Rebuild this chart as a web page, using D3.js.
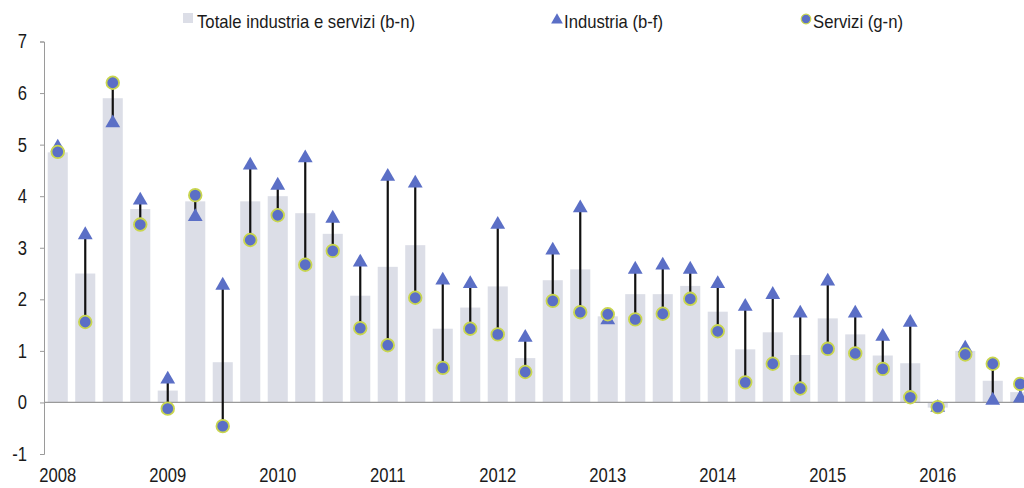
<!DOCTYPE html>
<html>
<head>
<meta charset="utf-8">
<script src="https://cdn.jsdelivr.net/npm/d3@7"></script>
<style>
  body { margin: 0; background: #ffffff; }
  text { font-family: "Liberation Sans", Arial, sans-serif; fill: #1a1a1a; }
</style>
</head>
<body>
<script>
'use strict';

// years on the x axis, one label at the first quarter of each
const years = ["2008", "2009", "2010", "2011", "2012", "2013", "2014", "2015", "2016"];
const quarters = ["T1", "T2", "T3", "T4"];

// Totale industria e servizi (b-n)
const totale = [4.85, 2.5, 5.9, 3.75, 0.23, 3.9, 0.78, 3.9, 4.0, 3.67, 3.27, 2.07,
  2.63, 3.05, 1.43, 1.84, 2.25, 0.86, 2.37, 2.58, 1.67, 2.1, 2.1, 2.26,
  1.76, 1.03, 1.36, 0.92, 1.63, 1.32, 0.91, 0.76, -0.1, 1.0, 0.42, 0.2];

// Industria (b-f)
const industria = [4.95, 3.25, 5.42, 3.92, 0.45, 3.6, 2.27, 4.6, 4.21, 4.74, 3.57, 2.72,
  4.38, 4.25, 2.37, 2.3, 3.45, 1.26, 2.95, 3.77, 1.6, 2.58, 2.66, 2.58,
  2.3, 1.86, 2.09, 1.73, 2.35, 1.73, 1.28, 1.55, -0.1, 1.05, 0.04, 0.08];

// Servizi (g-n)
const servizi = [4.86, 1.56, 6.2, 3.45, -0.12, 4.02, -0.46, 3.15, 3.63, 2.67, 2.94, 1.44,
  1.11, 2.03, 0.67, 1.43, 1.32, 0.59, 1.97, 1.75, 1.71, 1.61, 1.72, 2.01,
  1.38, 0.39, 0.75, 0.27, 1.04, 0.95, 0.65, 0.1, -0.09, 0.93, 0.75, 0.36];

const yTicks = [-1, 0, 1, 2, 3, 4, 5, 6, 7];
const legendLabels = ["Totale industria e servizi (b-n)", "Industria (b-f)", "Servizi (g-n)"];

(function() {

  let svgContainer = "";
  const measurements = {
    width: 1024,
    height: 488,
    left: 44,
    top: 41.5,
    bottom: 454
  };
  const colors = {
    bar: "#dcdee7",
    marker: "#5b6fc6",
    ring: "#c9d64e",
    stem: "#111111",
    axis: "#9a9a9a"
  };
  const narrow = 0.83; // the original uses a condensed face

  window.onload = function() {
    svgContainer = d3.select('body')
      .append('svg')
      .attr('width', measurements.width)
      .attr('height', measurements.height);

    // build one row per quarter
    let categories = [];
    years.forEach((y) => quarters.forEach((q) => categories.push(y + " " + q)));
    let data = categories.map((c, i) => ({
      cat: c,
      tot: totale[i],
      ind: industria[i],
      ser: servizi[i]
    }));

    let scales = drawAxes(categories);
    plotData(data, scales);
    makeLegend();
  };

  // squeeze a text selection horizontally
  function condense(sel) {
    sel.each(function() {
      let w = this.getComputedTextLength();
      d3.select(this)
        .attr('textLength', w * narrow)
        .attr('lengthAdjust', 'spacingAndGlyphs');
    });
  }

  // axes, zero line and year labels
  function drawAxes(categories) {
    let xScale = d3.scaleBand()
      .domain(categories)
      .range([measurements.left, measurements.left + 27.5 * categories.length])
      .paddingInner(0.27)
      .paddingOuter(0.135);

    let yScale = d3.scaleLinear()
      .domain([-1, 7])
      .range([measurements.bottom, measurements.top]);

    // y axis on the left
    let yAxis = d3.axisLeft(yScale)
      .tickValues(yTicks)
      .tickSize(4)
      .tickPadding(13)
      .tickFormat((d) => String(d));
    let gy = svgContainer.append('g')
      .attr('transform', 'translate(' + measurements.left + ', 0)')
      .call(yAxis);
    gy.select('.domain').attr('stroke', colors.axis).attr('stroke-width', 1);
    gy.selectAll('.tick line').attr('stroke', colors.axis);
    gy.selectAll('.tick text')
      .style('font-size', '20px')
      .style('font-family', '"Liberation Sans", Arial, sans-serif')
      .attr('fill', '#1a1a1a')
      .call(condense);

    // year labels under the chart, centred on the first quarter
    let firstQuarters = categories.filter((c) => c.endsWith(quarters[0]));
    let xAxis = d3.axisBottom(xScale)
      .tickValues(firstQuarters)
      .tickSize(0)
      .tickPadding(0)
      .tickFormat((d) => d.split(" ")[0]);
    let gx = svgContainer.append('g')
      .attr('transform', 'translate(0, 468)')
      .call(xAxis);
    gx.select('.domain').remove();
    gx.selectAll('.tick text')
      .style('font-size', '20px')
      .style('font-family', '"Liberation Sans", Arial, sans-serif')
      .attr('fill', '#1a1a1a')
      .call(condense);

    return { x: xScale, y: yScale };
  }

  // bars, stems, triangles and circles
  function plotData(data, s) {
    let xMid = (d) => s.x(d.cat) + s.x.bandwidth() / 2;

    svgContainer.selectAll('.bar')
      .data(data)
      .enter()
      .append('rect')
      .attr('class', 'bar')
      .attr('x', (d) => s.x(d.cat))
      .attr('width', s.x.bandwidth())
      .attr('y', (d) => s.y(Math.max(0, d.tot)))
      .attr('height', (d) => Math.abs(s.y(d.tot) - s.y(0)))
      .attr('fill', colors.bar);

    // zero line
    svgContainer.append('line')
      .attr('x1', measurements.left)
      .attr('x2', measurements.width)
      .attr('y1', s.y(0))
      .attr('y2', s.y(0))
      .attr('stroke', colors.axis)
      .attr('stroke-width', 1.2);

    svgContainer.selectAll('.stem')
      .data(data)
      .enter()
      .append('line')
      .attr('class', 'stem')
      .attr('x1', xMid)
      .attr('x2', xMid)
      .attr('y1', (d) => s.y(d.ind))
      .attr('y2', (d) => s.y(d.ser))
      .attr('stroke', colors.stem)
      .attr('stroke-width', 2.2);

    let tri = d3.symbol().type(d3.symbolTriangle).size(95);
    svgContainer.selectAll('.ind')
      .data(data)
      .enter()
      .append('path')
      .attr('class', 'ind')
      .attr('d', tri)
      .attr('transform', (d) => 'translate(' + xMid(d) + ',' + s.y(d.ind) + ')')
      .attr('fill', colors.marker);

    svgContainer.selectAll('.ser')
      .data(data)
      .enter()
      .append('circle')
      .attr('class', 'ser')
      .attr('cx', xMid)
      .attr('cy', (d) => s.y(d.ser))
      .attr('r', 6.3)
      .attr('fill', colors.marker)
      .attr('stroke', colors.ring)
      .attr('stroke-width', 1.8);
  }

  // legend across the top
  function makeLegend() {
    let g = svgContainer.append('g');

    g.append('rect')
      .attr('x', 183).attr('y', 13)
      .attr('width', 10).attr('height', 10)
      .attr('fill', colors.bar);
    g.append('text')
      .attr('x', 197).attr('y', 28)
      .style('font-size', '19px')
      .attr('textLength', 218)
      .attr('lengthAdjust', 'spacingAndGlyphs')
      .text(legendLabels[0]);

    g.append('path')
      .attr('d', d3.symbol().type(d3.symbolTriangle).size(60))
      .attr('transform', 'translate(557, 20)')
      .attr('fill', colors.marker);
    g.append('text')
      .attr('x', 564).attr('y', 28)
      .style('font-size', '19px')
      .attr('textLength', 99)
      .attr('lengthAdjust', 'spacingAndGlyphs')
      .text(legendLabels[1]);

    g.append('circle')
      .attr('cx', 806).attr('cy', 19)
      .attr('r', 4.8)
      .attr('fill', colors.marker)
      .attr('stroke', colors.ring)
      .attr('stroke-width', 1.2);
    g.append('text')
      .attr('x', 813).attr('y', 28)
      .style('font-size', '19px')
      .attr('textLength', 90)
      .attr('lengthAdjust', 'spacingAndGlyphs')
      .text(legendLabels[2]);
  }

})();
</script>
</body>
</html>
